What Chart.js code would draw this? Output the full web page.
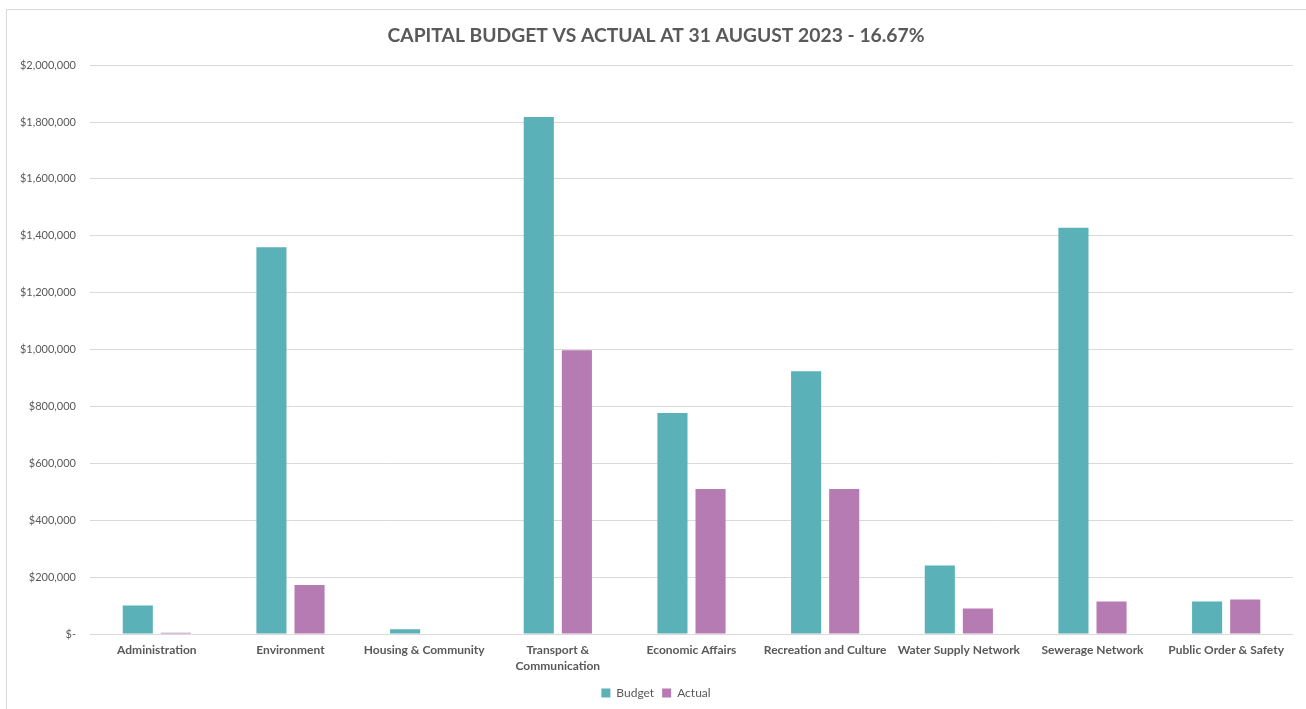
<!DOCTYPE html>
<html>
<head>
<meta charset="utf-8">
<title>Capital Budget vs Actual</title>
<script src="https://cdn.jsdelivr.net/npm/chart.js@4/dist/chart.umd.min.js"></script>
<style>
  body { margin: 0; background: #fff; }
  #wrap { position: relative; width: 1306px; height: 709px; overflow: hidden; }
  #frame { position: absolute; left: 6px; top: 9px; width: 1320px; height: 720px; border: 1px solid #d9d9d9; box-sizing: border-box; }
  canvas { position: absolute; left: 0; top: 0; }
</style>
</head>
<body>
<div id="wrap">
  <div id="frame"></div>
  <canvas id="capital-chart" width="1306" height="709"></canvas>
</div>
<script>
// Capital budget vs actual spend by program, as at 31 August 2023.
const programs = [
  "Administration", "Environment", "Housing & Community", ["Transport &", "Communication"],
  "Economic Affairs", "Recreation and Culture", "Water Supply Network", "Sewerage Network",
  "Public Order & Safety"
];
const budget = [100000, 1360000, 17000, 1818000, 777000, 924000, 241000, 1428000, 114000];
const actual = [4000, 172000, 0, 998000, 510000, 510000, 90000, 114000, 121000];

const FONT = "Lato, 'Open Sans', sans-serif";
const TEXT = "#595959";

// Excel accounting style: zero shows as "$-"
function dollars(value) {
  if (value === 0) return "$-";
  return "$" + value.toLocaleString("en-US");
}

new Chart(document.getElementById("capital-chart"), {
  type: "bar",
  data: {
    labels: programs,
    datasets: [
      { label: "Budget", data: budget, backgroundColor: "#5ab1b8" },
      { label: "Actual", data: actual, backgroundColor: "#b77bb3" },
    ],
  },
  options: {
    responsive: false,
    animation: false,
    categoryPercentage: 0.57,
    barPercentage: 0.79,
    layout: { padding: { left: 19, right: 13, top: 1, bottom: 0 } },
    plugins: {
      title: {
        display: true,
        text: "CAPITAL BUDGET VS ACTUAL AT 31 AUGUST 2023 - 16.67%",
        color: TEXT,
        font: { family: FONT, size: 19.3, weight: "bold" },
        padding: { top: 23, bottom: 18 },
      },
      legend: {
        position: "bottom",
        labels: {
          color: TEXT,
          font: { family: FONT, size: 12 },
          boxWidth: 9,
          boxHeight: 9,
          padding: 8,
        },
      },
      tooltip: { enabled: false },
    },
    scales: {
      x: {
        grid: { display: false },
        border: { display: false },
        ticks: {
          color: TEXT,
          font: { family: FONT, size: 12, weight: "bold", lineHeight: 1.35 },
          maxRotation: 0,
          autoSkip: false,
          padding: 0,
        },
        afterFit: (scale) => { scale.height = 45; },
      },
      y: {
        min: 0,
        max: 2000000,
        grid: { color: "#d9d9d9", drawTicks: false },
        border: { display: false },
        ticks: {
          stepSize: 200000,
          color: TEXT,
          font: { family: FONT, size: 11 },
          padding: 14,
          callback: dollars,
        },
        afterFit: (scale) => { scale.width = 71; },
      },
    },
  },
});
</script>
</body>
</html>
